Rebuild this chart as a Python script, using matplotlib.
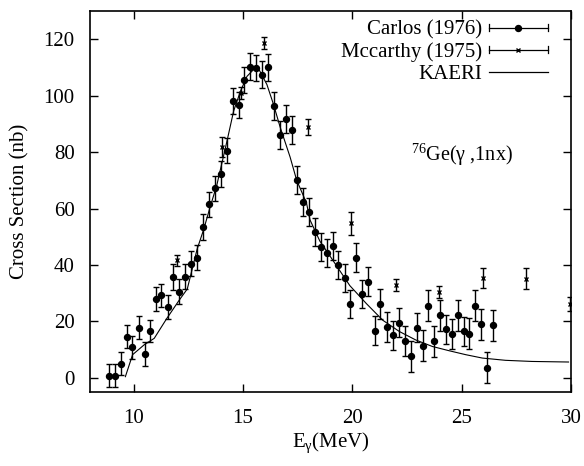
import matplotlib
matplotlib.use("Agg")
import matplotlib.pyplot as plt
from matplotlib.legend_handler import HandlerBase
from matplotlib.lines import Line2D

plt.rcParams['font.family'] = ['Liberation Serif', 'DejaVu Serif']
plt.rcParams['mathtext.fontset'] = 'custom'
plt.rcParams['mathtext.rm'] = 'Liberation Serif'
plt.rcParams['mathtext.it'] = 'Liberation Serif:italic'

# Carlos (1976)
carlos_e = [8.86, 9.15, 9.42, 9.68, 9.94, 10.23, 10.50, 10.75, 11.01, 11.27, 11.55, 11.82,
            12.09, 12.36, 12.62, 12.89, 13.18, 13.45, 13.71, 13.98, 14.25, 14.53, 14.80,
            15.06, 15.33, 15.60, 15.88, 16.14, 16.41, 16.68, 16.95, 17.23, 17.48, 17.75,
            18.01, 18.29, 18.56, 18.82, 19.09, 19.36, 19.64, 19.91, 20.18, 20.45, 20.72,
            21.03, 21.27, 21.59, 21.86, 22.14, 22.41, 22.68, 22.94, 23.21, 23.45, 23.74,
            24.01, 24.29, 24.56, 24.82, 25.09, 25.35, 25.59, 25.88, 26.16, 26.42]
carlos_xs = [0.8, 0.8, 5.0, 14.6, 10.8, 17.8, 8.4, 16.6, 28.0, 29.2, 25.1, 35.8,
             30.6, 35.9, 40.5, 42.6, 53.4, 61.5, 67.2, 72.2, 80.6, 98.1, 96.7,
             105.6, 110.3, 109.8, 107.5, 110.1, 96.3, 86.2, 91.8, 87.9, 70.1, 62.3,
             58.8, 51.8, 46.4, 44.2, 46.7, 40.0, 35.3, 26.1, 42.6, 29.7, 34.1,
             16.7, 26.2, 18.0, 15.1, 19.5, 13.0, 7.6, 17.8, 11.3, 25.5, 12.9,
             22.1, 17.2, 15.5, 22.2, 16.5, 15.7, 25.5, 19.0, 3.5, 18.7]
carlos_err = [4.0, 4.0, 4.0, 4.2, 4.0, 4.0, 4.3, 4.0, 4.2, 4.2, 4.2, 4.5,
              4.5, 4.5, 4.5, 4.5, 4.6, 4.5, 4.5, 4.6, 4.6, 4.7, 4.7,
              4.7, 4.7, 4.7, 4.8, 4.8, 5.0, 5.0, 5.0, 5.0, 5.0, 5.0,
              5.0, 5.0, 5.0, 5.0, 5.0, 5.0, 5.0, 5.0, 5.2, 5.0, 5.2,
              5.2, 5.2, 5.2, 5.2, 5.2, 5.2, 5.5, 5.2, 5.5, 5.5, 5.5,
              5.5, 5.2, 5.2, 5.5, 5.2, 5.5, 5.5, 5.5, 5.5, 5.5]

# Mccarthy (1975)
mcc_e = [12.0, 14.03, 14.9, 15.98, 17.95, 19.95, 21.98, 23.97, 25.95, 27.95, 29.93]
mcc_xs = [41.7, 81.8, 101.0, 118.6, 89.0, 54.8, 32.9, 30.4, 35.3, 35.2, 26.2]
mcc_err = [2.0, 3.5, 2.0, 2.1, 2.8, 4.0, 2.0, 2.2, 3.6, 3.7, 2.5]

# KAERI evaluation
kaeri_e = [9.62, 9.95, 10.48, 10.94, 11.51, 12.07, 12.45, 12.90, 13.20, 13.50, 13.80,
           14.27, 14.57, 14.88, 15.18, 15.48, 15.75, 16.09, 16.39, 16.70, 17.15, 17.45,
           17.90, 18.06, 18.51, 19.12, 19.88, 20.64, 21.39, 22.15, 22.90, 23.66, 24.42,
           25.18, 25.94, 27.00, 28.21, 29.88]
kaeri_xs = [0.4, 8.2, 11.7, 14.0, 21.0, 27.4, 31.5, 45.6, 52.6, 60.7, 68.3,
            84.1, 94.6, 101.6, 106.9, 109.3, 109.0, 104.0, 97.0, 88.8, 78.3, 70.1,
            62.0, 56.0, 48.5, 41.5, 32.7, 26.3, 20.4, 16.4, 13.4, 11.1, 9.6,
            8.2, 7.0, 6.2, 5.8, 5.6]

x_ticks = [10, 15, 20, 25, 30]
y_ticks = [0, 20, 40, 60, 80, 100, 120]


class HandlerGnuKey(HandlerBase):
    def __init__(self, marker, ms, mew, caps=True, **kw):
        super().__init__(**kw)
        self.marker = marker
        self.ms = ms
        self.mew = mew
        self.caps = caps

    def create_artists(self, legend, orig_handle, xdescent, ydescent, width, height,
                       fontsize, trans):
        y = height / 2 - ydescent
        arts = [Line2D([-xdescent, width - xdescent], [y, y], color='black', lw=0.9,
                       transform=trans)]
        if self.caps:
            c = height * 0.25
            for xx in (-xdescent, width - xdescent):
                arts.append(Line2D([xx, xx], [y - c, y + c], color='black', lw=0.9,
                                   transform=trans))
        if self.marker:
            arts.append(Line2D([width / 2 - xdescent], [y], marker=self.marker,
                               ms=self.ms, mew=self.mew, color='black', ls='none',
                               transform=trans))
        return arts


fig = plt.figure(figsize=(5.84, 4.66), dpi=100)
ax = fig.add_axes([0.154, 0.159, 0.824, 0.817])

ax.plot(kaeri_e, kaeri_xs, color='black', lw=0.8, zorder=2)
ax.errorbar(carlos_e, carlos_xs, yerr=carlos_err, fmt='o', color='black', ms=4.3,
            elinewidth=1.0, capsize=2.2, capthick=1.0, zorder=3)
ax.errorbar(mcc_e, mcc_xs, yerr=mcc_err, fmt='x', color='black', ms=3.5, mew=1.0,
            elinewidth=1.0, capsize=2.2, capthick=1.0, zorder=3)

h1 = Line2D([], [])
h2 = Line2D([], [])
h3 = Line2D([], [])
leg = ax.legend([h1, h2, h3], ['Carlos (1976)', 'Mccarthy (1975)', 'KAERI'],
                handler_map={h1: HandlerGnuKey('o', 4.3, 1.0),
                             h2: HandlerGnuKey('x', 3.5, 1.0),
                             h3: HandlerGnuKey(None, 0, 0, caps=False)},
                loc='upper right', bbox_to_anchor=(0.969, 0.998), frameon=False,
                markerfirst=False, fontsize=15, handlelength=2.85, handletextpad=0.3,
                labelspacing=0.12, borderaxespad=0.0)

ax.text(0.667, 0.622, r'$^{\mathrm{76}}$Ge(γ ,1nx)', transform=ax.transAxes, fontsize=14.5,
        ha='left', va='center')

ax.set_xlim(8, 30)
ax.set_ylim(-5, 130)
ax.set_xticks(x_ticks)
ax.set_yticks(y_ticks)
ax.tick_params(direction='in', length=6, width=1.0, top=True, right=True,
               labelsize=15)
ax.tick_params(axis='x', pad=12)
ax.tick_params(axis='y', pad=11)
for s in ax.spines.values():
    s.set_linewidth(1.2)

ax.set_xlabel(r'E$_{\mathrm{γ}}$(MeV)', fontsize=15, labelpad=2)
ax.set_ylabel('Cross Section (nb)', fontsize=15, labelpad=10)

fig.savefig('out.png', dpi=100)
